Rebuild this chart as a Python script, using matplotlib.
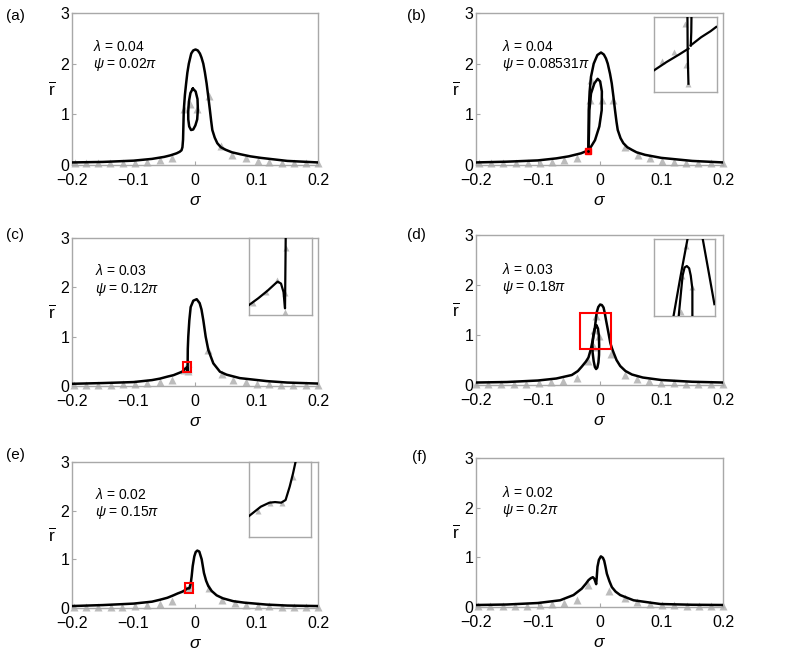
import matplotlib
matplotlib.use("Agg")
import matplotlib.pyplot as plt
from matplotlib.patches import Rectangle

plt.rcParams['font.family'] = ['Liberation Sans', 'DejaVu Sans']
plt.rcParams['mathtext.fontset'] = 'custom'
plt.rcParams['mathtext.rm'] = 'Liberation Sans'
plt.rcParams['mathtext.it'] = 'Liberation Sans:italic'
plt.rcParams['axes.unicode_minus'] = True

# ---------------- data ----------------
x_ticks = [-0.2, -0.1, 0, 0.1, 0.2]
x_ticklabels = ['\u22120.2', '\u22120.1', '0', '0.1', '0.2']
y_ticks = [0, 1, 2, 3]
y_ticklabels = ['0', '1', '2', '3']

panel_names = ['(a)', '(b)', '(c)', '(d)', '(e)', '(f)']
lambda_vals = ['0.04', '0.04', '0.03', '0.03', '0.02', '0.02']
psi_vals = ['0.02', '0.08531', '0.12', '0.18', '0.15', '0.2']

# (a)
a_main_s = [-0.2, -0.15, -0.1, -0.07, -0.05, -0.04, -0.03, -0.025, -0.022, -0.0205, -0.0195,
            -0.0183, -0.0165, -0.0145, -0.0125, -0.0101, -0.0062, -0.003, 0.0008, 0.0045,
            0.0079, 0.0105, 0.0134, 0.016, 0.0188, 0.0215, 0.0242, 0.0262, 0.0281, 0.032,
            0.0362, 0.042, 0.0498, 0.06, 0.0743, 0.09, 0.107, 0.15, 0.2]
a_main_r = [0.05, 0.06, 0.085, 0.12, 0.16, 0.19, 0.23, 0.26, 0.29, 0.35, 0.5,
            1.08, 1.38, 1.61, 1.82, 2.0, 2.2, 2.26, 2.28, 2.26,
            2.2, 2.12, 2.0, 1.83, 1.61, 1.35, 1.08, 0.87, 0.69, 0.54,
            0.43, 0.35, 0.30, 0.25, 0.21, 0.17, 0.14, 0.08, 0.05]
a_loop_s = [-0.0036, 0.0010, 0.0040, 0.0046, 0.0035, 0.0005, -0.0030, -0.0065, -0.0095,
            -0.0110, -0.0111, -0.0100, -0.0075, -0.0036]
a_loop_r = [1.51, 1.45, 1.30, 1.10, 0.90, 0.78, 0.70, 0.69, 0.76,
            0.90, 1.05, 1.25, 1.42, 1.51]
a_tri_s = [-0.195, -0.177, -0.158, -0.138, -0.117, -0.097, -0.078, -0.057, -0.037,
           -0.0182, -0.0085, 0.0035, 0.0229, 0.0416, 0.0607, 0.0824, 0.1016, 0.121,
           0.141, 0.161, 0.181, 0.2]
a_tri_r = [0.03, 0.03, 0.03, 0.03, 0.03, 0.04, 0.06, 0.09, 0.13,
           1.10, 1.20, 1.10, 1.36, 0.37, 0.20, 0.14, 0.08, 0.05,
           0.04, 0.03, 0.03, 0.03]

# (b)
b_main_s = [-0.2, -0.15, -0.1, -0.07, -0.05, -0.04, -0.03, -0.024, -0.0181, -0.0178, -0.0175,
            -0.016, -0.0138, -0.0094, -0.0035, 0.0024, 0.007, 0.0105, 0.0133, 0.017, 0.0198,
            0.0225, 0.0251, 0.0275, 0.0295, 0.034, 0.0386, 0.045, 0.0522, 0.06, 0.0737, 0.1,
            0.15, 0.2]
b_main_r = [0.05, 0.065, 0.09, 0.13, 0.17, 0.20, 0.23, 0.26, 0.28, 0.6, 1.08,
            1.45, 1.74, 2.0, 2.17, 2.22, 2.18, 2.1, 2.0, 1.8, 1.61,
            1.35, 1.08, 0.85, 0.69, 0.53, 0.43, 0.35, 0.30, 0.25, 0.20, 0.14,
            0.08, 0.05]
b_loop_s = [-0.0181, -0.0172, -0.0164, -0.0138, -0.0084, -0.003, 0.001, 0.0038, 0.0035,
            -0.0003, -0.0073, -0.0138, -0.0181]
b_loop_r = [0.28, 0.6, 1.08, 1.41, 1.61, 1.70, 1.65, 1.45, 1.08,
            0.76, 0.49, 0.36, 0.28]
b_point = [-0.0181, 0.28]
b_tri_s = [-0.195, -0.175, -0.156, -0.136, -0.116, -0.096, -0.077, -0.057, -0.037,
           -0.0154, -0.0143, 0.0035, 0.0224, 0.0413, 0.0628, 0.0818, 0.1008, 0.12,
           0.14, 0.16, 0.18, 0.2]
b_tri_r = [0.03, 0.03, 0.03, 0.03, 0.03, 0.04, 0.06, 0.09, 0.14,
           1.28, 1.68, 1.28, 1.28, 0.36, 0.20, 0.14, 0.08, 0.05,
           0.04, 0.03, 0.03, 0.03]

# (c)
c_main_s = [-0.2, -0.15, -0.1, -0.07, -0.057, -0.045, -0.035, -0.027, -0.021, -0.019, -0.0165,
            -0.0135, -0.0126, -0.0121, -0.012, -0.0118, -0.011, -0.0093, -0.0071, -0.0028,
            0.0027, 0.0075, 0.0105, 0.0135, 0.0173, 0.0216, 0.0297, 0.0405, 0.0513, 0.0729,
            0.1162, 0.15, 0.2]
c_main_r = [0.045, 0.06, 0.08, 0.12, 0.15, 0.19, 0.22, 0.26, 0.29, 0.315, 0.345,
            0.373, 0.36, 0.307, 0.48, 0.75, 1.0, 1.33, 1.6, 1.73,
            1.76, 1.68, 1.55, 1.33, 1.0, 0.73, 0.46, 0.29, 0.23, 0.16,
            0.10, 0.07, 0.05]
c_box = [-0.019, -0.007, 0.29, 0.48]
c_tri_s = [-0.197, -0.178, -0.158, -0.137, -0.117, -0.097, -0.078, -0.057, -0.037,
           -0.0182, -0.0158, -0.0136, -0.0121, -0.0121, -0.012, 0.0216, 0.0432, 0.0621,
           0.0826, 0.101, 0.12, 0.14, 0.16, 0.18, 0.2]
c_tri_r = [0.03, 0.03, 0.03, 0.03, 0.04, 0.05, 0.06, 0.08, 0.13,
           0.319, 0.348, 0.377, 0.344, 0.298, 0.457, 0.73, 0.24, 0.13,
           0.08, 0.05, 0.04, 0.03, 0.03, 0.03, 0.03]

# (d)
d_main_s = [-0.2, -0.15, -0.1, -0.07, -0.0449, -0.035, -0.0286, -0.022, -0.0179, -0.014,
            -0.0105, -0.0075, -0.0046, -0.002, 0.001, 0.0038, 0.0065, 0.0085, 0.0105,
            0.0125, 0.0145, 0.0175, 0.02, 0.0227, 0.0275, 0.0335, 0.042, 0.0525, 0.07,
            0.1, 0.15, 0.2]
d_main_r = [0.05, 0.06, 0.09, 0.13, 0.2, 0.28, 0.37, 0.47, 0.55, 0.72,
            0.93, 1.15, 1.45, 1.56, 1.61, 1.6, 1.55, 1.44, 1.3,
            1.17, 1.04, 0.84, 0.74, 0.65, 0.5, 0.38, 0.28, 0.21, 0.15,
            0.1, 0.065, 0.05]
d_loop_s = [-0.0048, -0.0025, -0.0010, -0.0006, -0.0008, -0.0018, -0.0035, -0.0055,
            -0.0075, -0.0095, -0.0112, -0.0115, -0.0102, -0.0078, -0.0048]
d_loop_r = [1.19, 1.13, 0.98, 0.80, 0.60, 0.45, 0.35, 0.32,
            0.36, 0.48, 0.65, 0.80, 0.98, 1.12, 1.19]
d_box = [-0.032, 0.018, 0.72, 1.45]
d_tri_s = [-0.2, -0.18, -0.16, -0.139, -0.119, -0.098, -0.078, -0.059, -0.0367,
           -0.0189, -0.0096, -0.0092, -0.006, -0.0011, 0.019, 0.0416, 0.0605, 0.08,
           0.1, 0.12, 0.14, 0.16, 0.18, 0.2]
d_tri_r = [0.03, 0.03, 0.03, 0.03, 0.03, 0.04, 0.06, 0.08, 0.15,
           0.48, 0.76, 1.10, 1.39, 0.99, 0.62, 0.2, 0.12, 0.08,
           0.05, 0.04, 0.03, 0.03, 0.03, 0.03]

# (e)
e_main_s = [-0.2, -0.15, -0.1, -0.07, -0.0568, -0.045, -0.0352, -0.028, -0.0216, -0.0163,
            -0.0139, -0.0122, -0.0098, -0.0089, -0.0081, -0.0069, -0.0055, -0.0038, -0.0012,
            0.0011, 0.0037, 0.0069, 0.0108, 0.0145, 0.018, 0.0216, 0.027, 0.0351, 0.045,
            0.0621, 0.08, 0.1162, 0.15, 0.2]
e_main_r = [0.04, 0.06, 0.09, 0.13, 0.17, 0.21, 0.26, 0.30, 0.33, 0.367,
            0.392, 0.402, 0.402, 0.41, 0.445, 0.51, 0.65, 0.86, 1.06,
            1.15, 1.18, 1.16, 1.0, 0.72, 0.56, 0.45, 0.35, 0.26, 0.2,
            0.14, 0.11, 0.07, 0.05, 0.04]
e_box = [-0.0163, -0.0037, 0.31, 0.51]
e_tri_s = [-0.197, -0.177, -0.158, -0.137, -0.118, -0.097, -0.078, -0.057, -0.037,
           -0.0146, -0.012, -0.0095, -0.0074, 0.0231, 0.0432, 0.0648, 0.083, 0.102,
           0.121, 0.141, 0.161, 0.181, 0.2]
e_tri_r = [0.03, 0.03, 0.03, 0.03, 0.03, 0.04, 0.06, 0.09, 0.14,
           0.38, 0.40, 0.40, 0.47, 0.42, 0.16, 0.10, 0.07, 0.05,
           0.04, 0.03, 0.03, 0.03, 0.03]

# (f)
f_main_s = [-0.2, -0.15, -0.1, -0.0638, -0.0422, -0.0287, -0.022, -0.0179, -0.014, -0.0108,
            -0.0085, -0.0065, -0.0054, -0.0045, -0.0033, -0.001, 0.0022, 0.0055, 0.0076,
            0.0095, 0.0119, 0.016, 0.02, 0.026, 0.0335, 0.0551, 0.0984, 0.15, 0.2]
f_main_r = [0.04, 0.05, 0.08, 0.135, 0.24, 0.37, 0.47, 0.54, 0.58, 0.6,
            0.57, 0.5, 0.46, 0.6, 0.81, 0.95, 1.02, 0.99, 0.93,
            0.82, 0.67, 0.52, 0.40, 0.31, 0.24, 0.135, 0.06, 0.045, 0.04]
f_tri_s = [-0.196, -0.177, -0.157, -0.137, -0.117, -0.097, -0.077, -0.057, -0.037,
           -0.019, 0.016, 0.0405, 0.061, 0.081, 0.101, 0.121, 0.141, 0.161, 0.181, 0.2]
f_tri_r = [0.03, 0.03, 0.03, 0.03, 0.03, 0.04, 0.06, 0.09, 0.15,
           0.45, 0.32, 0.18, 0.1, 0.07, 0.05, 0.04, 0.03, 0.03, 0.03, 0.03]

# insets, in the inset's own unit box
ib_line1_u = [0, 0.2, 0.4, 0.548]
ib_line1_v = [0.289, 0.40, 0.50, 0.578]
ib_line2_u = [0.585, 0.75, 0.9, 0.99]
ib_line2_v = [0.622, 0.73, 0.81, 0.867]
ib_strand1_u = [0.532, 0.535, 0.542, 0.548]
ib_strand1_v = [1.0, 0.6, 0.3, 0.11]
ib_strand2_u = [0.596, 0.593, 0.585]
ib_strand2_v = [1.0, 0.8, 0.62]
ib_tri_u = [0.495, 0.319, 0.122, 0.511, 0.537]
ib_tri_v = [0.911, 0.533, 0.409, 0.356, 0.111]

ic_curve_u = [0, 0.15, 0.3, 0.42, 0.457, 0.51, 0.55, 0.574, 0.585]
ic_curve_v = [0.13, 0.22, 0.32, 0.41, 0.435, 0.41, 0.3, 0.087, 1.0]
ic_tri_u = [0.069, 0.266, 0.452, 0.574, 0.574, 0.585]
ic_tri_v = [0.152, 0.304, 0.457, 0.283, 0.043, 0.878]

id_left_u = [0.319, 0.43, 0.548]
id_left_v = [0, 0.5, 1.0]
id_right_u = [0.798, 0.9, 0.989]
id_right_v = [1.0, 0.55, 0.154]
id_loop_u = [0.404, 0.44, 0.468, 0.50, 0.537, 0.575, 0.601, 0.628, 0.628]
id_loop_v = [0, 0.3, 0.526, 0.63, 0.649, 0.62, 0.526, 0.351, 0]
id_tri_u = [0.521, 0.457, 0.617, 0.447]
id_tri_v = [0.912, 0.526, 0.373, 0.053]

ie_curve_u = [0, 0.191, 0.328, 0.42, 0.519, 0.59, 0.656, 0.710, 0.749]
ie_curve_v = [0.284, 0.409, 0.462, 0.47, 0.462, 0.498, 0.676, 0.853, 1.0]
ie_tri_u = [0.137, 0.339, 0.536, 0.710]
ie_tri_v = [0.351, 0.453, 0.453, 0.8]

# ---------------- styling ----------------
LINE_KW = dict(color='black', lw=1.8, solid_capstyle='round', zorder=3)
TRI_KW = dict(ls='none', marker='^', ms=5.5, color='#bcbcbc', mec='none', zorder=2, clip_on=False)
SPINE = '#a8a8a8'

fig = plt.figure(figsize=(7.89, 6.66), dpi=100)

axes_pos = [
    [0.0913, 0.7523, 0.3118, 0.2282],
    [0.6033, 0.7523, 0.3131, 0.2282],
    [0.0913, 0.4204, 0.3118, 0.2222],
    [0.6033, 0.4219, 0.3131, 0.2252],
    [0.0913, 0.0871, 0.3118, 0.2192],
    [0.6033, 0.0886, 0.3131, 0.2237],
]
label_pos = [(0.008, 0.987), (0.516, 0.987), (0.008, 0.657), (0.516, 0.657),
             (0.008, 0.327), (0.522, 0.324)]
text_pos = [(0.086, 0.83), (0.104, 0.83), (0.093, 0.83), (0.104, 0.82), (0.093, 0.83), (0.104, 0.82)]
inset_pos = {1: [0.829, 0.8619, 0.0795, 0.1126],
             2: [0.3156, 0.527, 0.0795, 0.1152],
             3: [0.829, 0.5255, 0.0773, 0.1156],
             4: [0.3156, 0.1932, 0.0786, 0.1126]}


def style_axes(ax):
    ax.set_xlim(-0.2, 0.2)
    ax.set_ylim(0, 3)
    ax.set_xticks(x_ticks)
    ax.set_xticklabels(x_ticklabels)
    ax.set_yticks(y_ticks)
    ax.set_yticklabels(y_ticklabels)
    ax.tick_params(direction='in', length=3, color=SPINE, labelsize=11.5)
    ax.tick_params(axis='x', pad=5.5)
    ax.tick_params(axis='y', pad=2)
    for sp in ax.spines.values():
        sp.set_color(SPINE)
        sp.set_linewidth(1.0)
    ax.set_xlabel(r'$\sigma$', fontsize=12.5, labelpad=4)
    ax.set_ylabel(r'$\overline{\mathrm{r}}$', fontsize=12.5, rotation=0, va='center', labelpad=6)


def make_inset(pos):
    ins = fig.add_axes(pos)
    ins.set_xlim(0, 1)
    ins.set_ylim(0, 1)
    ins.set_xticks([])
    ins.set_yticks([])
    for sp in ins.spines.values():
        sp.set_color(SPINE)
        sp.set_linewidth(1.0)
    return ins


mains = [(a_main_s, a_main_r), (b_main_s, b_main_r), (c_main_s, c_main_r),
         (d_main_s, d_main_r), (e_main_s, e_main_r), (f_main_s, f_main_r)]
loops = {0: (a_loop_s, a_loop_r), 1: (b_loop_s, b_loop_r), 3: (d_loop_s, d_loop_r)}
tris = [(a_tri_s, a_tri_r), (b_tri_s, b_tri_r), (c_tri_s, c_tri_r),
        (d_tri_s, d_tri_r), (e_tri_s, e_tri_r), (f_tri_s, f_tri_r)]
boxes = {2: c_box, 3: d_box, 4: e_box}

for i in range(6):
    ax = fig.add_axes(axes_pos[i])
    style_axes(ax)
    ax.plot(tris[i][0], tris[i][1], **TRI_KW)
    ax.plot(mains[i][0], mains[i][1], **LINE_KW)
    if i in loops:
        ax.plot(loops[i][0], loops[i][1], **LINE_KW)
    if i in boxes:
        x0, x1, y0, y1 = boxes[i]
        ax.add_patch(Rectangle((x0, y0), x1 - x0, y1 - y0, fill=False,
                               edgecolor='red', lw=1.5, zorder=4))
    if i == 1:
        ax.plot(b_point[0], b_point[1], 's', color='red', ms=5, mec='red', zorder=5)
        ax.plot(b_point[0], b_point[1], '.', color='black', ms=2, zorder=6)
    ax.text(text_pos[i][0], text_pos[i][1],
            r'$\lambda$ = ' + lambda_vals[i] + '\n' + r'$\psi$ = ' + psi_vals[i] + r'$\pi$',
            transform=ax.transAxes, fontsize=10, va='top', ha='left', linespacing=1.2)
    fig.text(label_pos[i][0], label_pos[i][1], panel_names[i], fontsize=11, va='top', ha='left')

# insets
ins = make_inset(inset_pos[1])
ins.plot(ib_tri_u, ib_tri_v, **dict(TRI_KW, ms=5, clip_on=True))
for u, v in [(ib_line1_u, ib_line1_v), (ib_line2_u, ib_line2_v),
             (ib_strand1_u, ib_strand1_v), (ib_strand2_u, ib_strand2_v)]:
    ins.plot(u, v, color='black', lw=1.6, zorder=3)

ins = make_inset(inset_pos[2])
ins.plot(ic_tri_u, ic_tri_v, **dict(TRI_KW, ms=5, clip_on=True))
ins.plot(ic_curve_u, ic_curve_v, color='black', lw=1.6, zorder=3)

ins = make_inset(inset_pos[3])
ins.plot(id_tri_u, id_tri_v, **dict(TRI_KW, ms=5, clip_on=True))
for u, v in [(id_left_u, id_left_v), (id_right_u, id_right_v), (id_loop_u, id_loop_v)]:
    ins.plot(u, v, color='black', lw=1.6, zorder=3)

ins = make_inset(inset_pos[4])
ins.plot(ie_tri_u, ie_tri_v, **dict(TRI_KW, ms=5, clip_on=True))
ins.plot(ie_curve_u, ie_curve_v, color='black', lw=1.6, zorder=3)

fig.savefig('out.png', dpi=100)
